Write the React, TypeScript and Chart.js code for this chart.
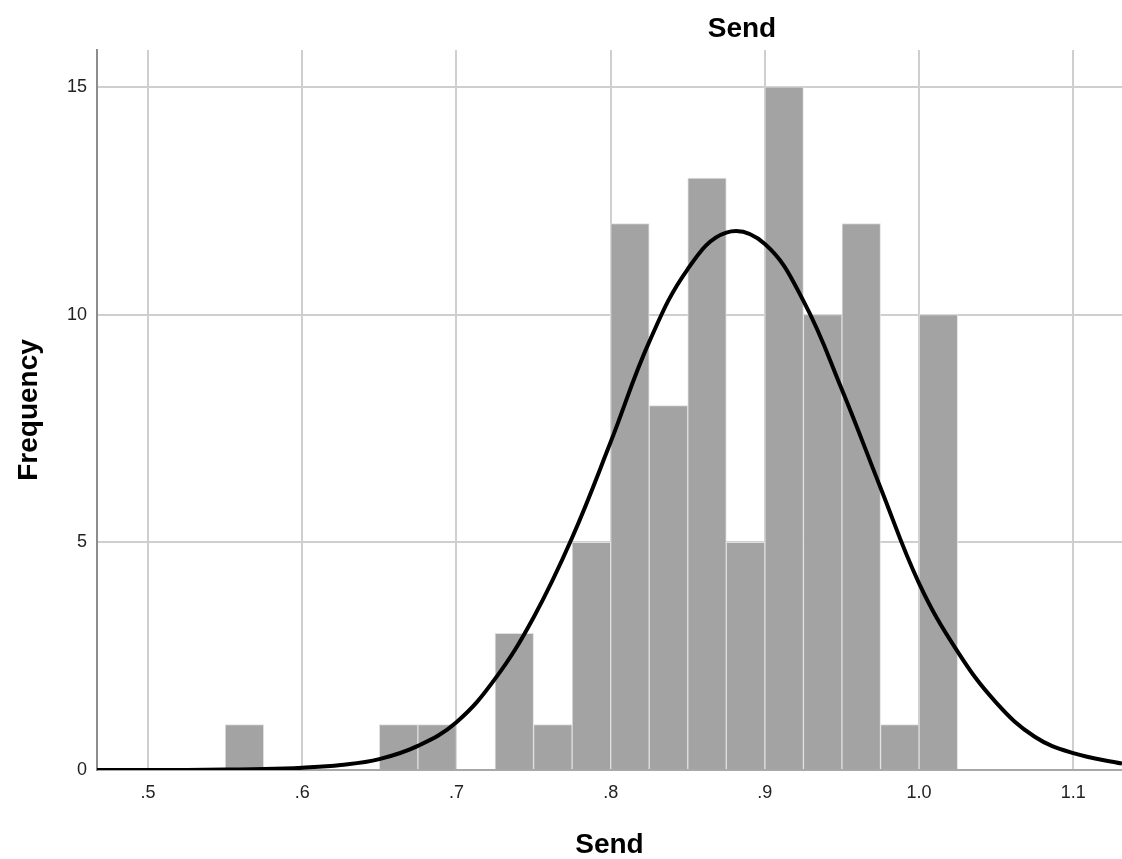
import React, { useEffect, useRef } from "react";
import { Chart, registerables } from "chart.js";

Chart.register(...registerables);

// Histogram bins (lower edge) and frequencies
const binWidth = 0.025;
const binStarts = [0.55, 0.65, 0.675, 0.725, 0.75, 0.775, 0.8, 0.825, 0.85, 0.875, 0.9, 0.925, 0.95, 0.975, 1.0];
const counts = [1, 1, 1, 3, 1, 5, 12, 8, 13, 5, 15, 10, 12, 1, 10];

// Normal curve
const curveX = [0.4669, 0.5, 0.525, 0.55, 0.575, 0.6, 0.625, 0.65, 0.675, 0.7, 0.725, 0.75, 0.775, 0.8, 0.825, 0.85, 0.875, 0.9, 0.925, 0.95, 0.975, 1.0, 1.025, 1.05, 1.075, 1.1, 1.1316];
const curveY = [0.0, 0.0, 0.0, 0.01, 0.02, 0.05, 0.11, 0.24, 0.53, 1.05, 2.0, 3.35, 5.1, 7.2, 9.4, 11.0, 11.8, 11.55, 10.3, 8.35, 6.2, 4.1, 2.6, 1.48, 0.73, 0.37, 0.14];

// Axis ticks
const xTicks = [0.5, 0.6, 0.7, 0.8, 0.9, 1.0, 1.1];
const xTickLabels = [".5", ".6", ".7", ".8", ".9", "1.0", "1.1"];
const yTicks = [0, 5, 10, 15];

const chartTitle = "Send";
const xTitle = "Send";
const yTitle = "Frequency";

const FONT = "'Liberation Sans', Arial, sans-serif";

export default function App() {
  const ref = useRef<HTMLCanvasElement | null>(null);

  useEffect(() => {
    if (!ref.current) return;
    const titlePlugin = {
      id: "topTitle",
      afterDraw(chart: any) {
        const ctx = chart.ctx;
        ctx.save();
        ctx.font = `bold 28px ${FONT}`;
        ctx.fillStyle = "#000";
        ctx.textAlign = "center";
        ctx.textBaseline = "alphabetic";
        ctx.fillText(chartTitle, 742, 37);
        ctx.restore();
      },
    };

    const chart = new Chart(ref.current, {
      type: "bar",
      data: {
        datasets: [
          {
            type: "line",
            data: curveX.map((x, i) => ({ x, y: curveY[i] })),
            borderColor: "#000",
            borderWidth: 4,
            pointRadius: 0,
            tension: 0.4,
            fill: false,
            order: 0,
          } as any,
          {
            type: "bar",
            data: binStarts.map((s, i) => ({ x: s + binWidth / 2, y: counts[i] })),
            backgroundColor: "#a3a3a3",
            borderColor: "#e0e0e0",
            borderWidth: 1,
            borderSkipped: "bottom",
            barPercentage: 1,
            categoryPercentage: 1,
            order: 1,
          } as any,
        ],
      },
      options: {
        animation: false,
        responsive: true,
        maintainAspectRatio: false,
        layout: { padding: { top: 50, left: 0, right: 0, bottom: 0 } },
        plugins: {
          legend: { display: false },
          tooltip: { enabled: false },
          title: { display: false },
        },
        scales: {
          x: {
            type: "linear",
            min: 0.4669,
            max: 1.1316,
            offset: false,
            afterFit: (s: any) => {
              s.height = 89;
            },
            afterBuildTicks: (s: any) => {
              s.ticks = xTicks.map((v) => ({ value: v }));
            },
            ticks: {
              autoSkip: false,
              maxRotation: 0,
              padding: 12,
              color: "#222",
              font: { family: FONT, size: 18 },
              callback: (v: any) => {
                const i = xTicks.findIndex((t) => Math.abs(t - v) < 1e-6);
                return i >= 0 ? xTickLabels[i] : "";
              },
            },
            grid: { color: "#cfcfcf", lineWidth: 2, drawTicks: false, offset: false },
            border: { color: "#a8a8a8", width: 2 },
            title: {
              display: true,
              text: xTitle,
              color: "#000",
              font: { family: FONT, size: 28, weight: "bold", lineHeight: 1 },
              padding: { top: 0, bottom: 0 },
            },
          },
          y: {
            min: 0,
            max: 15.81,
            afterFit: (s: any) => {
              s.width = 97;
            },
            afterBuildTicks: (s: any) => {
              s.ticks = yTicks.map((v) => ({ value: v }));
            },
            ticks: {
              padding: 10,
              color: "#222",
              font: { family: FONT, size: 18 },
            },
            grid: { color: "#cfcfcf", lineWidth: 2, drawTicks: false },
            border: { color: "#8c8c8c", width: 2 },
            title: {
              display: true,
              text: yTitle,
              color: "#000",
              font: { family: FONT, size: 28, weight: "bold", lineHeight: 1 },
              padding: { top: 15, bottom: 0 },
            },
          },
        },
      },
      plugins: [titlePlugin],
    });
    return () => chart.destroy();
  }, []);

  return (
    <div style={{ position: "absolute", left: 0, top: 0, width: 1122, height: 859, background: "#fff" }}>
      <canvas ref={ref} />
    </div>
  );
}
